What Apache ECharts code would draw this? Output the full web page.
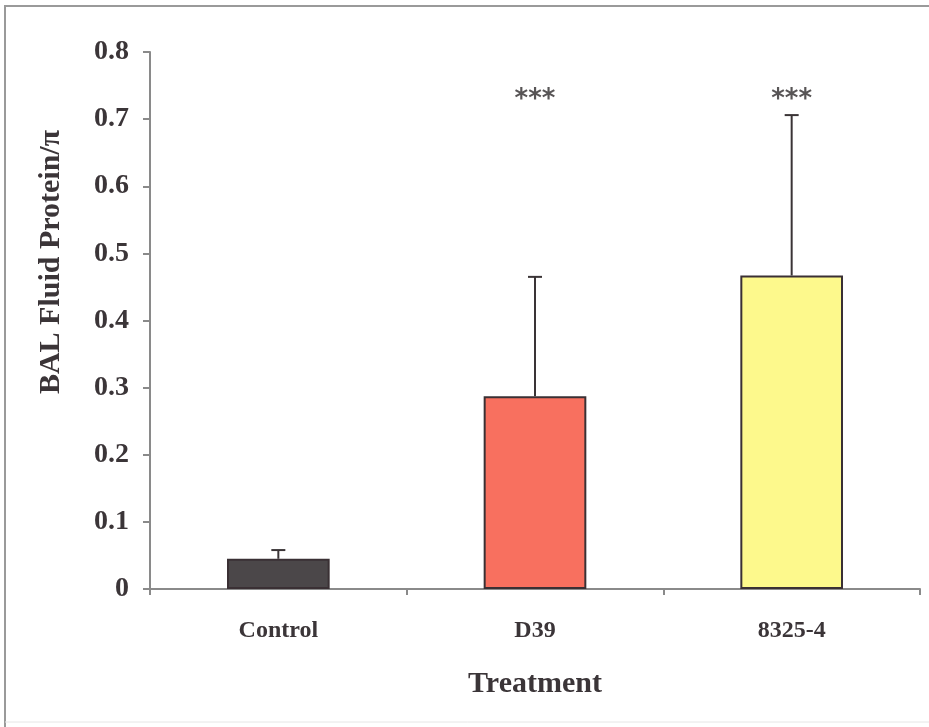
<!DOCTYPE html>
<html>
<head>
<meta charset="utf-8">
<script src="https://cdn.jsdelivr.net/npm/echarts@6/dist/echarts.min.js"></script>
<style>
  html, body { margin: 0; padding: 0; background: #fff; }
  #chart { width: 929px; height: 727px; }
</style>
</head>
<body>
<div id="chart"></div>
<script>
// Treatment groups and BAL fluid protein (mean, upper error)
const categories = ['Control', 'D39', '8325-4'];
const means = [0.045, 0.287, 0.467];
const errorTops = [0.058, 0.465, 0.706];
const significance = ['', '***', '***'];
const yTicks = [0, 0.1, 0.2, 0.3, 0.4, 0.5, 0.6, 0.7, 0.8];
const barColors = ['#4b4749', '#f8705f', '#fdf98c'];

const serif = '"Liberation Serif", "DejaVu Serif", serif';
const textColor = '#3b3538';

const chart = echarts.init(document.getElementById('chart'));

chart.setOption({
  animation: false,
  backgroundColor: '#fff',
  grid: { left: 150, right: 9, top: 52, bottom: 138 },
  xAxis: {
    type: 'category',
    data: categories,
    axisLine: { lineStyle: { color: '#8a8a8a', width: 2 } },
    axisTick: { show: true, alignWithLabel: false, length: 6, lineStyle: { color: '#8a8a8a', width: 2 } },
    axisLabel: { fontFamily: serif, fontWeight: 'bold', fontSize: 24, color: textColor, margin: 30 },
    name: 'Treatment',
    nameLocation: 'middle',
    nameGap: 80,
    nameTextStyle: { fontFamily: serif, fontWeight: 'bold', fontSize: 30, color: textColor }
  },
  yAxis: {
    type: 'value',
    min: yTicks[0],
    max: yTicks[yTicks.length - 1],
    interval: 0.1,
    splitLine: { show: false },
    axisLine: { show: true, lineStyle: { color: '#8a8a8a', width: 2 } },
    axisTick: { show: true, length: 7, lineStyle: { color: '#8a8a8a', width: 2 } },
    axisLabel: {
      fontFamily: serif, fontWeight: 'bold', fontSize: 28, color: textColor, margin: 21,
      formatter: v => (v === 0 ? '0' : v.toFixed(1))
    }
  },
  graphic: [
    // page frame
    { type: 'polyline', shape: { points: [[5, 727], [5, 6], [940, 6]] },
      style: { stroke: '#9a9a9a', lineWidth: 2, fill: null } },
    { type: 'line', shape: { x1: 5, y1: 722, x2: 940, y2: 722 },
      style: { stroke: '#e6e6e6', lineWidth: 1 } },
    { type: 'text', x: 51, y: 262, rotation: Math.PI / 2,
      style: { text: 'BAL Fluid Protein/π', fontFamily: serif, fontWeight: 'bold', fontSize: 30,
               fill: textColor, textAlign: 'center', textVerticalAlign: 'middle' } }
  ],
  series: [
    {
      type: 'bar',
      barWidth: '40%',
      data: means.map((v, i) => ({
        value: v,
        itemStyle: { color: barColors[i], borderColor: '#3a3034', borderWidth: 2 }
      }))
    },
    {
      // upward error bars with caps
      type: 'custom',
      data: categories.map((c, i) => [i, means[i], errorTops[i]]),
      renderItem: (params, api) => {
        const base = api.coord([api.value(0), api.value(1)]);
        const top = api.coord([api.value(0), api.value(2)]);
        const half = 7;
        const style = { stroke: '#3a3436', lineWidth: 2 };
        return {
          type: 'group',
          children: [
            { type: 'line', shape: { x1: base[0], y1: base[1], x2: top[0], y2: top[1] }, style },
            { type: 'line', shape: { x1: top[0] - half, y1: top[1], x2: top[0] + half, y2: top[1] }, style }
          ]
        };
      },
      z: 5
    },
    {
      // significance markers
      type: 'scatter',
      symbolSize: 0,
      data: categories.map((c, i) => [i, 0.728]),
      label: {
        show: true,
        position: 'inside',
        formatter: p => significance[p.dataIndex],
        fontFamily: '"DejaVu Sans", sans-serif',
        fontWeight: 'bold',
        fontSize: 26,
        color: '#2e2a2c'
      }
    }
  ]
});
</script>
</body>
</html>
